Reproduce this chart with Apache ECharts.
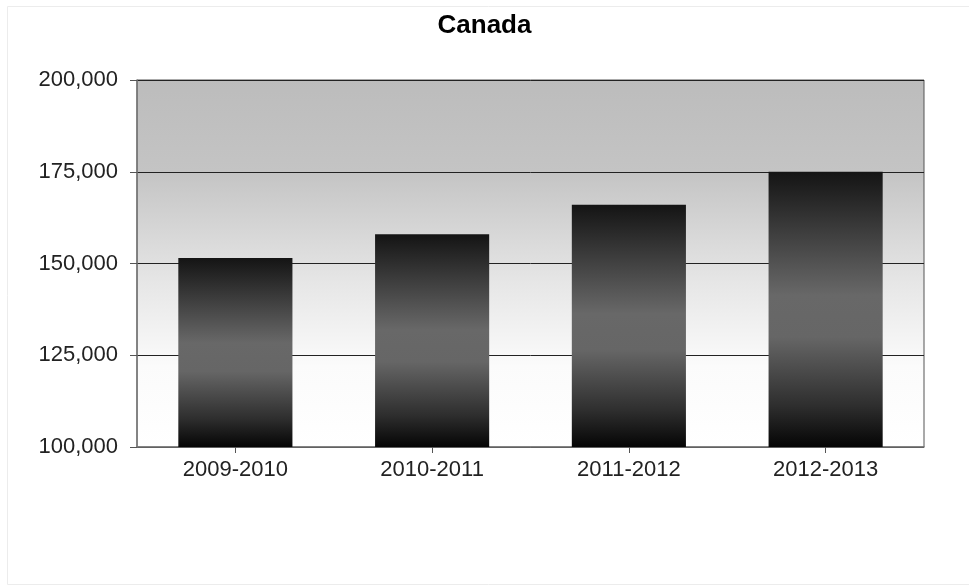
<!DOCTYPE html>
<html>
<head>
<meta charset="utf-8">
<script src="https://cdn.jsdelivr.net/npm/echarts@6/dist/echarts.min.js"></script>
<style>
html,body{margin:0;padding:0;background:#fff;}
#c{width:969px;height:586px;}
</style>
</head>
<body>
<div id="c"></div>
<script>
const title = 'Canada';
const categories = ['2009-2010', '2010-2011', '2011-2012', '2012-2013'];
const values = [151500, 158000, 166000, 175000];
const yMin = 100000, yMax = 200000, yStep = 25000;

const chart = echarts.init(document.getElementById('c'));
chart.setOption({
  backgroundColor: '#ffffff',
  animation: false,
  title: {
    text: title,
    left: 'center',
    top: 8,
    textStyle: { fontFamily: 'Liberation Sans, Arial', fontWeight: 'bold', fontSize: 26, color: '#000' }
  },
  graphic: [{
    type: 'rect',
    left: 5, top: 4,
    shape: { width: 962, height: 578 },
    style: { fill: 'none', stroke: '#ececec', lineWidth: 1 },
    silent: true
  }],
  grid: {
    left: 137, right: 45, top: 80, bottom: 139,
    show: true,
    borderColor: '#555',
    borderWidth: 1,
    backgroundColor: new echarts.graphic.LinearGradient(0, 0, 0, 1, [
      { offset: 0, color: '#bcbcbc' },
      { offset: 0.25, color: '#c4c4c4' },
      { offset: 0.55, color: '#e6e6e6' },
      { offset: 0.78, color: '#fbfbfb' },
      { offset: 1, color: '#ffffff' }
    ])
  },
  xAxis: {
    type: 'category',
    data: categories,
    axisLine: { show: true, lineStyle: { color: '#777', width: 1.5 } },
    axisTick: { show: true, alignWithLabel: true, length: 6, lineStyle: { color: '#555' } },
    axisLabel: { fontFamily: 'Liberation Sans, Arial', fontSize: 22, color: '#222', margin: 12 }
  },
  yAxis: {
    type: 'value',
    min: yMin, max: yMax, interval: yStep,
    axisLine: { show: true, lineStyle: { color: '#777', width: 1.5 } },
    axisTick: { show: true, length: 7, lineStyle: { color: '#555' } },
    splitLine: { show: true, lineStyle: { color: '#222', width: 1 } },
    axisLabel: {
      fontFamily: 'Liberation Sans, Arial', fontSize: 22, color: '#222', margin: 19,
      formatter: v => v.toLocaleString('en-US')
    }
  },
  series: [{
    type: 'bar',
    data: values,
    barWidth: '58%',
    itemStyle: {
      color: new echarts.graphic.LinearGradient(0, 0, 0, 1, [
        { offset: 0, color: '#141414' },
        { offset: 0.2, color: '#3a3a3a' },
        { offset: 0.45, color: '#686868' },
        { offset: 0.6, color: '#666666' },
        { offset: 0.85, color: '#2e2e2e' },
        { offset: 1, color: '#050505' }
      ])
    }
  }]
});
</script>
</body>
</html>
